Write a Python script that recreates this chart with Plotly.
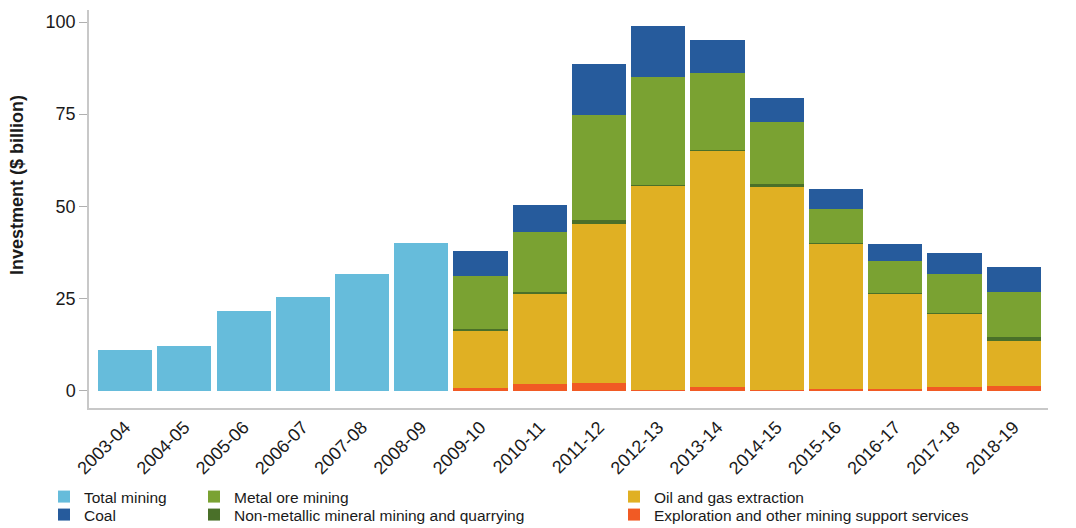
import plotly.graph_objects as go

years = ["2003-04", "2004-05", "2005-06", "2006-07", "2007-08", "2008-09", "2009-10",
         "2010-11", "2011-12", "2012-13", "2013-14", "2014-15", "2015-16", "2016-17",
         "2017-18", "2018-19"]

total_mining = [10.9, 12.0, 21.5, 25.5, 31.5, 40.0] + [None] * 10
exploration = [None] * 6 + [0.8, 1.9, 2.0, 0.1, 1.0, 0.2, 0.4, 0.4, 1.0, 1.2]
oil_gas = [None] * 6 + [15.5, 24.3, 43.2, 55.5, 64.1, 55.1, 39.4, 25.8, 19.8, 12.3]
non_metallic = [None] * 6 + [0.5, 0.6, 1.1, 0.2, 0.3, 0.8, 0.3, 0.3, 0.3, 1.0]
metal_ore = [None] * 6 + [14.2, 16.3, 28.6, 29.3, 20.7, 16.9, 9.2, 8.7, 10.6, 12.3]
coal = [None] * 6 + [6.8, 7.3, 13.8, 13.9, 9.0, 6.3, 5.4, 4.6, 5.7, 6.8]

y_ticks = [0, 25, 50, 75, 100]

# pixel geometry helpers (plot area)
L, R, T, B = 89, 1048, 10, 408
W, H = 1076, 528


def px_x(px):
    return (px - L) / (R - L)


def px_y(py):
    return (B - py) / (B - T)


FONT = "Liberation Sans, Arial, sans-serif"
TXT = "#1a1a1a"

series = [
    ("Total mining", total_mining, "#66bcdb", "legend"),
    ("Exploration and other mining support services", exploration, "#f15a24", "legend6"),
    ("Oil and gas extraction", oil_gas, "#e0b023", "legend5"),
    ("Non-metallic mineral mining and quarrying", non_metallic, "#4a7029", "legend4"),
    ("Metal ore mining", metal_ore, "#7aa232", "legend3"),
    ("Coal", coal, "#265b9c", "legend2"),
]

fig = go.Figure()
for name, vals, color, lg in series:
    fig.add_trace(go.Bar(x=years, y=vals, name=name, marker=dict(color=color, line=dict(width=0)),
                         legend=lg))

# legend positions (pixel left of legend box, row center), container coordinates
col_x = [44, 194, 614]
row_y = [497, 515]
legend_pos = {
    "legend": (col_x[0], row_y[0]),
    "legend2": (col_x[0], row_y[1]),
    "legend3": (col_x[1], row_y[0]),
    "legend4": (col_x[1], row_y[1]),
    "legend5": (col_x[2], row_y[0]),
    "legend6": (col_x[2], row_y[1]),
}
leg_layout = {}
for key, (lx, ly) in legend_pos.items():
    leg_layout[key] = dict(x=lx / W, y=1 - ly / H, xanchor="left", yanchor="middle",
                           xref="container", yref="container", bgcolor="rgba(0,0,0,0)",
                           font=dict(family=FONT, size=15.5, color=TXT),
                           itemclick=False, itemdoubleclick=False)

fig.update_layout(
    width=W, height=H,
    margin=dict(l=L, r=W - R, t=T, b=H - B, pad=0, autoexpand=False),
    barmode="stack",
    bargap=0.085,
    plot_bgcolor="white",
    paper_bgcolor="white",
    font=dict(family=FONT, color=TXT),
    showlegend=True,
    **leg_layout,
)

fig.update_xaxes(
    type="category",
    range=[-0.61, 15.58],
    showline=True, linecolor="#c8c8c8", linewidth=1.5,
    showgrid=False, ticks="",
    tickangle=-45,
    automargin=False,
    tickfont=dict(family=FONT, size=18, color=TXT),
)
fig.update_yaxes(
    range=[-4.75, 103.26],
    tickvals=y_ticks,
    showline=True, linecolor="#c8c8c8", linewidth=1.5,
    showgrid=False, zeroline=False,
    ticks="outside", ticklen=8, tickcolor="#b0b0b0", tickwidth=1,
    ticklabelstandoff=0,
    automargin=False,
    tickfont=dict(family=FONT, size=18, color=TXT),
)

fig.add_annotation(
    text="<b>Investment ($ billion)</b>", textangle=-90,
    x=px_x(17), y=px_y(185), xref="paper", yref="paper",
    showarrow=False, xanchor="center", yanchor="middle",
    font=dict(family=FONT, size=18, color=TXT),
)

fig.write_html("out.html")
